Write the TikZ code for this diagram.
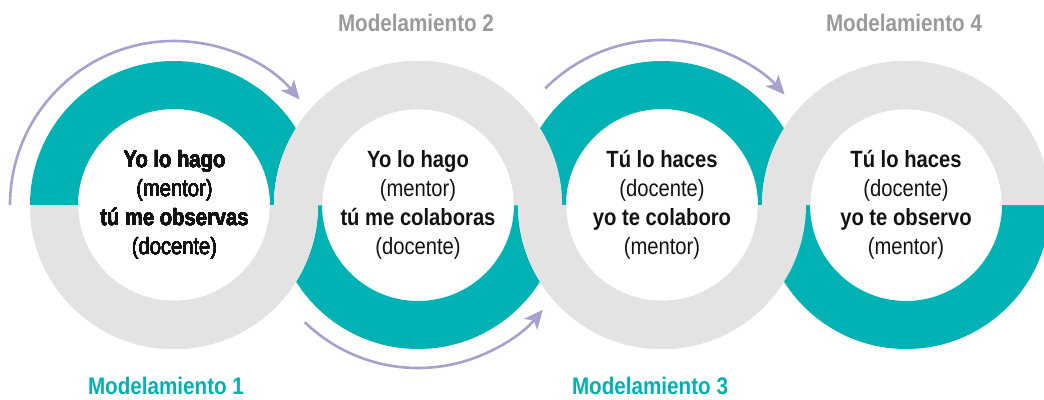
\documentclass[tikz,border=0pt]{standalone}
\usepackage{fontspec}
\setmainfont{Liberation Sans}
\usepackage{graphicx}
\usepackage{tikz}
\usetikzlibrary{arrows.meta}
\definecolor{ringteal}{HTML}{00B2B4}
\definecolor{ringgrey}{HTML}{E3E3E3}
\definecolor{arrowpurple}{HTML}{A7A1CF}
\definecolor{labelgrey}{HTML}{9A9A9A}
\tikzstyle{ring teal}=[fill=ringteal]
\tikzstyle{ring grey}=[fill=ringgrey]
\tikzstyle{arrow} = [draw=arrowpurple,line width=2.6pt,-{Stealth[length=19pt,width=17pt,inset=5pt]}]
\tikzstyle{step text}=[inner sep=0pt,font=\fontsize{23.5}{29}\selectfont,text=black!93]
\tikzstyle{label}=[inner sep=0pt,font=\fontsize{24}{29}\selectfont\bfseries]
\newcommand{\narrow}[1]{\scalebox{0.86}[1]{#1}}
\newcommand{\steplines}[4]{\narrow{\begin{tabular}{@{}c@{}}\textbf{#1}\\#2\\\textbf{#3}\\#4\end{tabular}}}
\newcommand{\halfring}[3]{% center x, start angle, style
  \path[#3] (#1,0) ++(#2:144) arc[start angle=#2,end angle=#2+180,radius=144]
    -- ++(#2:48) arc[start angle=#2+180,end angle=#2,radius=96] -- cycle;}

\begin{document}
\begin{tikzpicture}[x=1pt,y=1pt]
   \useasboundingbox (0,-194) rectangle (1044,205);
   % teal halves first, grey halves on top
   \foreach \x/\a in {174/0, 418/180, 662/0, 906/180}
        \halfring{\x}{\a}{ring teal}
   \foreach \x/\a in {174/180, 418/0, 662/180, 906/0}
        \halfring{\x}{\a}{ring grey}
   % texts in the rings
   \node[step text] (m1) at (174.5,0) {\steplines{Yo lo hago}{(mentor)}{tú me observas}{(docente)}};
   \node[step text] (m2) at (418,0) {\steplines{Yo lo hago}{(mentor)}{tú me colaboras}{(docente)}};
   \node[step text] (m3) at (662,0) {\steplines{Tú lo haces}{(docente)}{yo te colaboro}{(mentor)}};
   \node[step text] (m4) at (906,0) {\steplines{Tú lo haces}{(docente)}{yo te observo}{(mentor)}};
   % arrows
   \draw[arrow] (174,0) ++(180:164) arc[start angle=180,end angle=40,radius=164];
   \draw[arrow] (m2.center) ++(-134:163) arc[start angle=-134,end angle=-40,radius=163];
   \draw[arrow] (m3.center) ++(135:165) arc[start angle=135,end angle=42,radius=165];
   % labels
   \node[label,text=ringteal] (l1) at (166,-181) {\narrow{Modelamiento 1}};
   \node[label,text=labelgrey] (l2) at (416,182) {\narrow{Modelamiento 2}};
   \node[label,text=ringteal] (l3) at (650,-181) {\narrow{Modelamiento 3}};
   \node[label,text=labelgrey] (l4) at (904,182) {\narrow{Modelamiento 4}};
\end{tikzpicture}
\end{document}
